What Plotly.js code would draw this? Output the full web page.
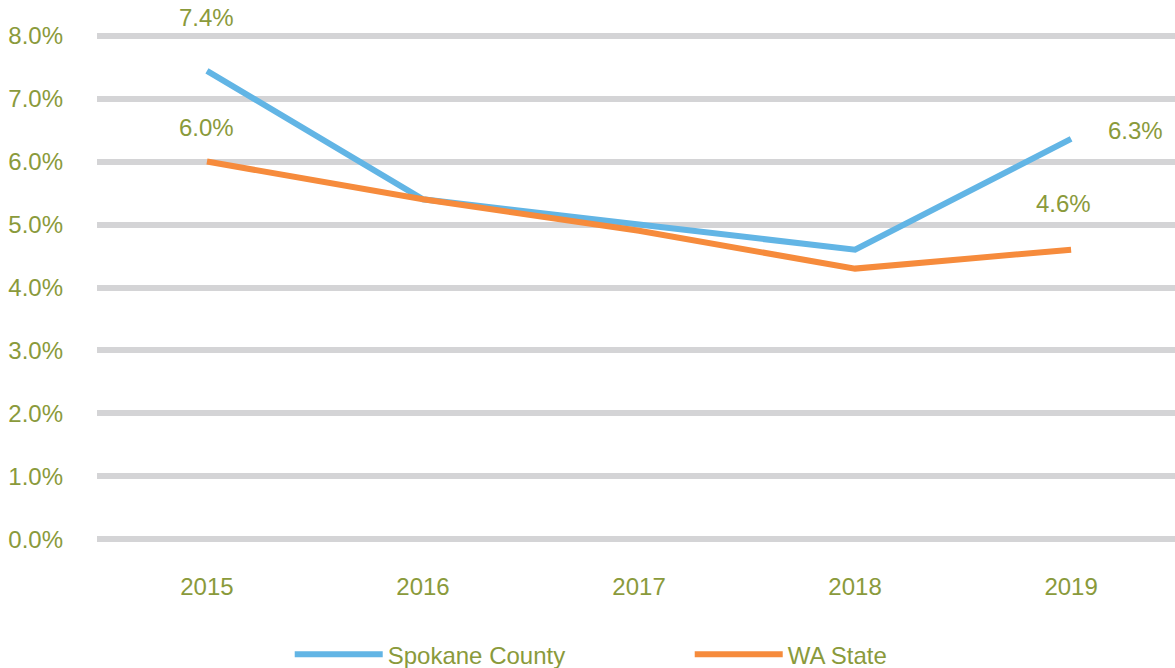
<!DOCTYPE html>
<html>
<head>
<meta charset="utf-8">
<script src="https://cdn.plot.ly/plotly-3.0.1.min.js"></script>
<style>html,body{margin:0;padding:0;background:#fff;}#chart{width:1175px;height:668px;}</style>
</head>
<body>
<div id="chart"></div>
<script>
const years = ["2015", "2016", "2017", "2018", "2019"];
const spokane = [0.0744, 0.054, 0.050, 0.046, 0.0636];
const waState = [0.060, 0.054, 0.049, 0.043, 0.046];
const seriesNames = ["Spokane County", "WA State"];
const labelYears = ["2015", "2019"];

const textColor = "#8a9a3b";
const fam = "Liberation Sans, Arial, sans-serif";
function mkFont(){ return {family: fam, size: 24, color: textColor}; }

const traces = [
  {x: years, y: spokane, name: seriesNames[0], type: "scatter", mode: "lines",
   line: {color: "#62b5e5", width: 6}, hoverinfo: "skip"},
  {x: years, y: waState, name: seriesNames[1], type: "scatter", mode: "lines",
   line: {color: "#f68b3c", width: 6}, hoverinfo: "skip"}
];

function pct(v){ return (v*100).toFixed(1) + "%"; }
// category axis: annotations located by category index
const iFirst = years.indexOf(labelYears[0]);
const iLast = years.indexOf(labelYears[1]);
const annSpecs = [
  {x: iFirst, y: spokane[iFirst], text: pct(spokane[iFirst]), xshift: 0, yshift: 53},
  {x: iFirst, y: waState[iFirst], text: pct(waState[iFirst]), xshift: 0, yshift: 34},
  {x: iLast, y: spokane[iLast], text: "6.3%", xshift: 64, yshift: 8},
  {x: iLast, y: waState[iLast], text: pct(waState[iLast]), xshift: -8, yshift: 46}
];
const annotations = annSpecs.map(a => ({
  x: a.x, y: a.y, text: a.text, xshift: a.xshift, yshift: a.yshift,
  xref: "x", yref: "y", showarrow: false, font: mkFont(), xanchor: "center", yanchor: "middle"
}));

const layout = {
  width: 1175, height: 668,
  margin: {l: 97, r: 0, t: 23, b: 116},
  paper_bgcolor: "#fff", plot_bgcolor: "#fff",
  font: mkFont(),
  showlegend: true,
  legend: {orientation: "h", xref: "container", yref: "container", x: 0.587, xanchor: "center",
           y: 0.02, yanchor: "middle", font: mkFont(), itemwidth: 88,
           entrywidth: 297, entrywidthmode: "pixels"},
  xaxis: {type: "category", range: [-0.509, 4.481], showgrid: false, zeroline: false, showline: false,
          ticks: "", tickfont: mkFont(), ticklabelstandoff: 18, fixedrange: true},
  yaxis: {range: [-0.002, 0.082], tickvals: [0,0.01,0.02,0.03,0.04,0.05,0.06,0.07,0.08], tickformat: ".1%",
          showgrid: true, gridcolor: "#d4d4d6", gridwidth: 6, zeroline: false, showline: false,
          ticks: "", tickfont: mkFont(), ticklabelstandoff: 33, fixedrange: true},
  annotations: annotations
};

Plotly.newPlot("chart", traces, layout, {displayModeBar: false, staticPlot: true});
</script>
</body>
</html>
